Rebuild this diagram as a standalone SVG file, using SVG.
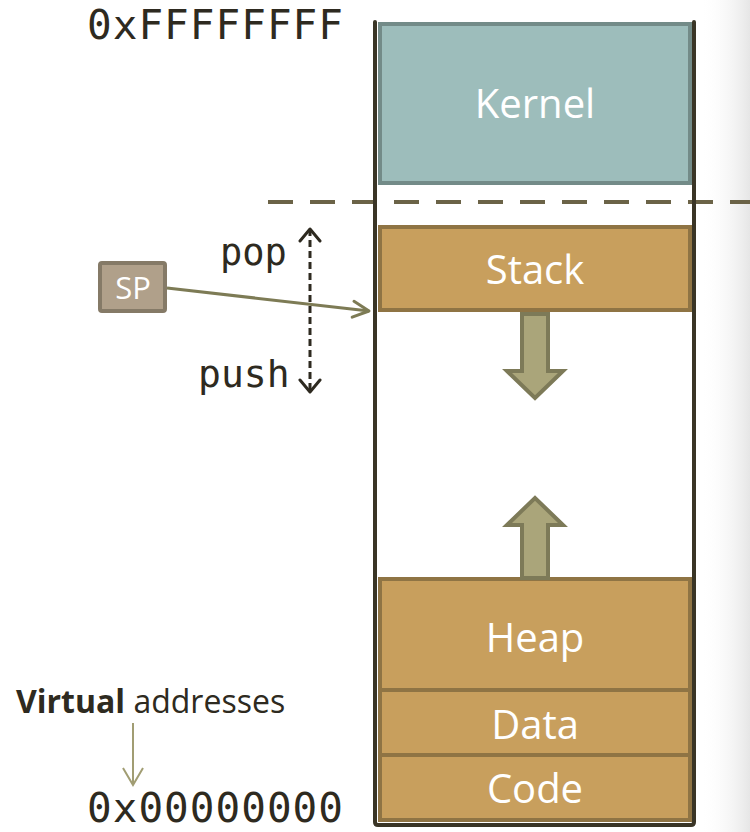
<svg xmlns="http://www.w3.org/2000/svg" width="750" height="832" viewBox="0 0 750 832">
  <defs>
    <linearGradient id="edge" x1="0" y1="0" x2="1" y2="0">
      <stop offset="0" stop-color="#ffffff" stop-opacity="0"/>
      <stop offset="1" stop-color="#e6e6e6" stop-opacity="1"/>
    </linearGradient>
    <marker id="open-sp" viewBox="0 0 20 20" refX="18" refY="10" markerWidth="20" markerHeight="20" markerUnits="userSpaceOnUse" orient="auto">
      <path d="M2,2 L18,10 L2,18" fill="none" stroke="#7d7b55" stroke-width="3" stroke-linecap="round" stroke-linejoin="round"/>
    </marker>
    <marker id="open-dark" viewBox="0 0 20 24" refX="18" refY="12" markerWidth="20" markerHeight="24" markerUnits="userSpaceOnUse" orient="auto-start-reverse">
      <path d="M6,2 L18,12 L6,22" fill="none" stroke="#2e2a20" stroke-width="3" stroke-linecap="round" stroke-linejoin="round"/>
    </marker>
    <marker id="open-thin" viewBox="0 0 24 24" refX="12" refY="22" markerWidth="24" markerHeight="24" markerUnits="userSpaceOnUse" orient="0">
      <path d="M2,5 L12,22 L22,5" fill="none" stroke="#a19d73" stroke-width="2"/>
    </marker>
  </defs>
  <style>
    .seg { fill: #c89f5d; stroke: #8f7444; stroke-width: 4; }
    .kern { fill: #9dbdbb; stroke: #738b88; stroke-width: 4; }
    .lbl { font-family: "Open Sans", "Noto Sans", sans-serif; fill: #ffffff; text-anchor: middle; }
    .mono { font-family: "DejaVu Sans Mono", monospace; fill: #2e2a20; }
    .grow { fill: #aaa57a; stroke: #7d7a58; stroke-width: 4; stroke-linejoin: miter; }
    .note { font-family: "Open Sans", "Noto Sans", sans-serif; fill: #2e2a20; font-size: 32px; }
  </style>

  <rect x="0" y="0" width="750" height="832" fill="#ffffff"/>
  <rect x="700" y="0" width="50" height="832" fill="url(#edge)"/>

  <!-- address labels -->
  <text class="mono" x="87" y="39" font-size="41" textLength="256" lengthAdjust="spacing">0xFFFFFFFF</text>
  <text class="mono" x="87" y="822" font-size="41" textLength="256" lengthAdjust="spacing">0x00000000</text>

  <!-- kernel / user boundary -->
  <line x1="268" y1="202" x2="750" y2="202" stroke="#6b6347" stroke-width="4" stroke-dasharray="25 17"/>

  <!-- memory segments -->
  <g id="kernel">
    <rect class="kern" x="380" y="24" width="310" height="159"/>
    <text class="lbl" x="535" y="118" font-size="40">Kernel</text>
  </g>
  <g id="stack">
    <rect class="seg" x="380" y="227" width="310" height="83"/>
    <text class="lbl" x="535" y="284" font-size="40">Stack</text>
  </g>
  <g id="heap">
    <rect class="seg" x="380" y="579" width="310" height="111"/>
    <text class="lbl" x="535" y="652" font-size="40">Heap</text>
  </g>
  <g id="data">
    <rect class="seg" x="380" y="690" width="310" height="65"/>
    <text class="lbl" x="535" y="739" font-size="40">Data</text>
  </g>
  <g id="code">
    <rect class="seg" x="380" y="755" width="310" height="65"/>
    <text class="lbl" x="535" y="803" font-size="40">Code</text>
  </g>

  <!-- address space outline -->
  <path d="M375,22 V822 Q375,825 378,825 H691 Q694,825 694,822 V22" fill="none" stroke="#3a3526" stroke-width="4" stroke-linecap="round"/>

  <!-- growth arrows -->
  <g id="stack-grow">
    <path class="grow" d="M522,314 H548 V371 H563 L535,398 L507,371 H522 Z"/>
  </g>
  <g id="heap-grow">
    <path class="grow" d="M522,578 V525 H507 L535,498 L563,525 H548 V578 Z"/>
  </g>

  <!-- stack pointer -->
  <g id="sp">
    <rect x="100" y="263" width="65" height="48" fill="#b0a08a" stroke="#857a67" stroke-width="4" rx="2"/>
    <text class="lbl" x="133" y="299" font-size="31">SP</text>
  </g>

  <!-- push / pop labels -->
  <text class="mono" x="220" y="265" font-size="37">pop</text>
  <text class="mono" x="198" y="387" font-size="38">push</text>

  <!-- virtual addresses note -->
  <text class="note" x="16" y="713"><tspan font-weight="bold">Virtual</tspan> addresses</text>

  <g id="connectors">
    <line x1="167" y1="288" x2="369" y2="311" stroke="#7d7b55" stroke-width="3" marker-end="url(#open-sp)"/>
    <line x1="310" y1="229" x2="310" y2="392" stroke="#2e2a20" stroke-width="3" stroke-dasharray="7 4" marker-start="url(#open-dark)" marker-end="url(#open-dark)"/>
    <line x1="133" y1="723" x2="133" y2="785" stroke="#a19d73" stroke-width="2" marker-end="url(#open-thin)"/>
  </g>
</svg>
